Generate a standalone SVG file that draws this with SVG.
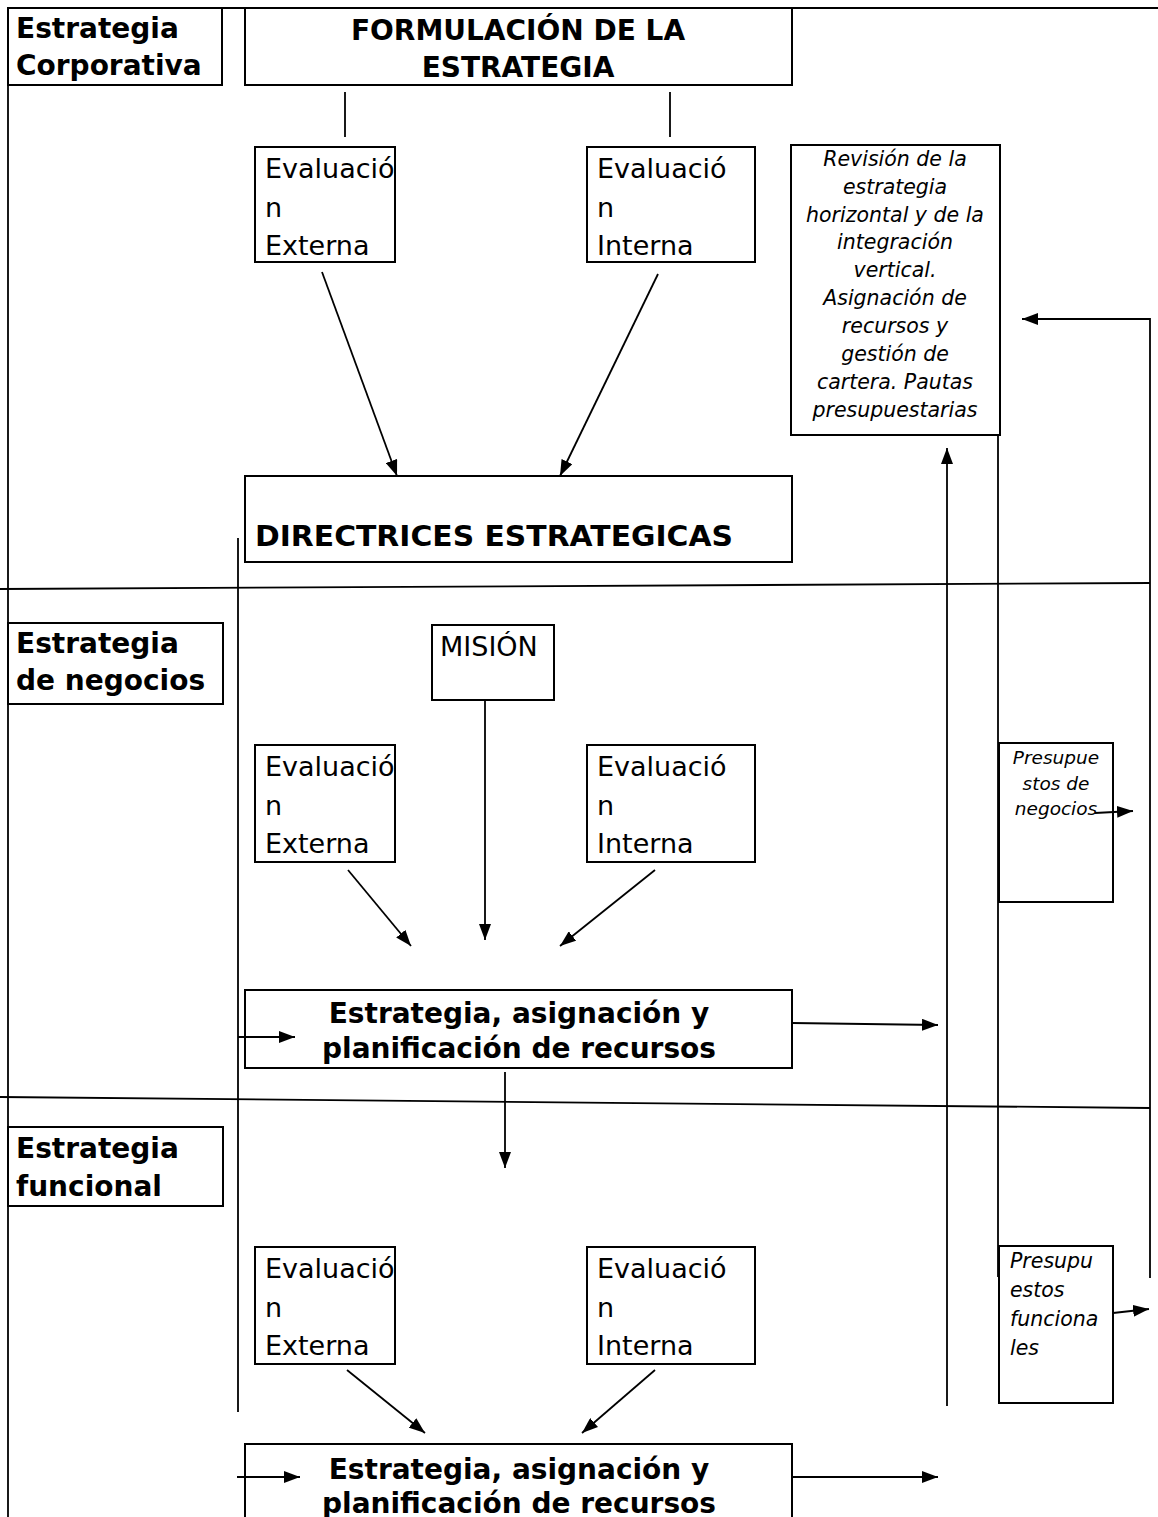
<svg xmlns="http://www.w3.org/2000/svg" width="1158" height="1517" viewBox="0 0 1158 1517">
  <style>
    .box { fill: #fff; stroke: #000; stroke-width: 2; }
    .ln { fill: none; stroke: #000; stroke-width: 1.8; }
    .arr { fill: none; stroke: #000; stroke-width: 1.8; marker-end: url(#ah); }
    .lbl { font-family: "DejaVu Sans", "Liberation Sans", sans-serif; font-weight: bold; font-size: 28px; fill: #000; }
    .reg { font-family: "DejaVu Sans", "Liberation Sans", sans-serif; font-size: 27px; fill: #000; }
    .it { font-family: "DejaVu Sans", "Liberation Sans", sans-serif; font-style: italic; fill: #000; }
  </style>
  <defs>
    <marker id="ah" viewBox="0 0 16 12" refX="16" refY="6" markerWidth="16" markerHeight="12" markerUnits="userSpaceOnUse" orient="auto">
      <path d="M0,0 L16,6 L0,12 Z" fill="#000"/>
    </marker>
  </defs>
  <rect width="1158" height="1517" fill="#fff"/>

  <!-- frame and level dividers -->
  <g id="frame">
    <line class="ln" x1="8" y1="8" x2="1158" y2="8"/>
    <line class="ln" x1="8" y1="8" x2="8" y2="1517"/>
    <line class="ln" x1="0" y1="589" x2="1150" y2="583"/>
    <line class="ln" x1="0" y1="1097" x2="1150" y2="1108"/>
  </g>

  <!-- level labels -->
  <g id="label-corporativa">
    <rect class="box" x="8" y="8" width="214" height="77"/>
    <text class="lbl" x="16" y="38">Estrategia</text>
    <text class="lbl" x="16" y="75">Corporativa</text>
  </g>
  <g id="label-negocios">
    <rect class="box" x="8" y="623" width="215" height="81"/>
    <text class="lbl" x="16" y="653">Estrategia</text>
    <text class="lbl" x="16" y="690">de negocios</text>
  </g>
  <g id="label-funcional">
    <rect class="box" x="8" y="1127" width="215" height="79"/>
    <text class="lbl" x="16" y="1158">Estrategia</text>
    <text class="lbl" x="16" y="1196">funcional</text>
  </g>

  <!-- corporate level -->
  <g id="formulacion">
    <rect class="box" x="245" y="8" width="547" height="77"/>
    <text class="lbl" x="518" y="40" text-anchor="middle">FORMULACIÓN DE LA</text>
    <text class="lbl" x="518" y="77" text-anchor="middle">ESTRATEGIA</text>
  </g>
  <g id="eval-ext-1">
    <rect class="box" x="255" y="147" width="140" height="115"/>
    <text class="reg" x="265" y="178">Evaluació</text>
    <text class="reg" x="265" y="217">n</text>
    <text class="reg" x="265" y="255">Externa</text>
  </g>
  <g id="eval-int-1">
    <rect class="box" x="587" y="147" width="168" height="115"/>
    <text class="reg" x="597" y="178">Evaluació</text>
    <text class="reg" x="597" y="217">n</text>
    <text class="reg" x="597" y="255">Interna</text>
  </g>
  <g id="directrices">
    <rect class="box" x="245" y="476" width="547" height="86"/>
    <text class="lbl" x="255" y="546" font-size="29" textLength="478" lengthAdjust="spacingAndGlyphs">DIRECTRICES ESTRATEGICAS</text>
  </g>
  <g id="revision">
    <rect class="box" x="791" y="145" width="209" height="290"/>
    <g class="it" font-size="20.5" text-anchor="middle">
      <text x="895" y="166">Revisión de la</text>
      <text x="895" y="194">estrategia</text>
      <text x="895" y="222">horizontal y de la</text>
      <text x="895" y="249">integración</text>
      <text x="895" y="277">vertical.</text>
      <text x="895" y="305">Asignación de</text>
      <text x="895" y="333">recursos y</text>
      <text x="895" y="361">gestión de</text>
      <text x="895" y="389">cartera. Pautas</text>
      <text x="895" y="417">presupuestarias</text>
    </g>
  </g>

  <!-- business level -->
  <g id="mision">
    <rect class="box" x="432" y="625" width="122" height="75"/>
    <text class="reg" x="440" y="656">MISIÓN</text>
  </g>
  <g id="eval-ext-2">
    <rect class="box" x="255" y="745" width="140" height="117"/>
    <text class="reg" x="265" y="776">Evaluació</text>
    <text class="reg" x="265" y="815">n</text>
    <text class="reg" x="265" y="853">Externa</text>
  </g>
  <g id="eval-int-2">
    <rect class="box" x="587" y="745" width="168" height="117"/>
    <text class="reg" x="597" y="776">Evaluació</text>
    <text class="reg" x="597" y="815">n</text>
    <text class="reg" x="597" y="853">Interna</text>
  </g>
  <g id="estrategia-negocios">
    <rect class="box" x="245" y="990" width="547" height="78"/>
    <text class="lbl" x="519" y="1023" text-anchor="middle">Estrategia, asignación y</text>
    <text class="lbl" x="519" y="1058" text-anchor="middle">planificación de recursos</text>
  </g>
  <g id="presupuestos-negocios">
    <rect class="box" x="999" y="743" width="114" height="159"/>
    <g class="it" font-size="18.5" text-anchor="middle">
      <text x="1056" y="764">Presupue</text>
      <text x="1056" y="790">stos de</text>
      <text x="1056" y="815">negocios</text>
    </g>
  </g>

  <!-- functional level -->
  <g id="eval-ext-3">
    <rect class="box" x="255" y="1247" width="140" height="117"/>
    <text class="reg" x="265" y="1278">Evaluació</text>
    <text class="reg" x="265" y="1317">n</text>
    <text class="reg" x="265" y="1355">Externa</text>
  </g>
  <g id="eval-int-3">
    <rect class="box" x="587" y="1247" width="168" height="117"/>
    <text class="reg" x="597" y="1278">Evaluació</text>
    <text class="reg" x="597" y="1317">n</text>
    <text class="reg" x="597" y="1355">Interna</text>
  </g>
  <g id="presupuestos-funcionales">
    <rect class="box" x="999" y="1246" width="114" height="157"/>
    <g class="it" font-size="20.5">
      <text x="1010" y="1268">Presupu</text>
      <text x="1010" y="1297">estos</text>
      <text x="1010" y="1326">funciona</text>
      <text x="1010" y="1355">les</text>
    </g>
  </g>
  <g id="estrategia-funcional">
    <rect class="box" x="245" y="1444" width="547" height="90"/>
    <text class="lbl" x="519" y="1479" text-anchor="middle">Estrategia, asignación y</text>
    <text class="lbl" x="519" y="1513" text-anchor="middle">planificación de recursos</text>
  </g>

  <!-- connectors -->
  <g id="connectors">
    <line class="ln" x1="345" y1="92" x2="345" y2="137"/>
    <line class="ln" x1="670" y1="92" x2="670" y2="137"/>
    <line class="arr" x1="322" y1="272" x2="397" y2="476"/>
    <line class="arr" x1="658" y1="274" x2="560" y2="476"/>

    <line class="ln" x1="238" y1="538" x2="238" y2="1412"/>
    <line class="arr" x1="947" y1="1406" x2="947" y2="448"/>
    <line class="ln" x1="998" y1="435" x2="998" y2="1277"/>
    <polyline class="arr" points="1150,1278 1150,319 1022,319"/>

    <line class="arr" x1="485" y1="700" x2="485" y2="940"/>
    <line class="arr" x1="348" y1="870" x2="411" y2="946"/>
    <line class="arr" x1="655" y1="870" x2="560" y2="946"/>
    <line class="arr" x1="238" y1="1037" x2="295" y2="1037"/>
    <line class="arr" x1="792" y1="1023" x2="938" y2="1025"/>
    <line class="arr" x1="1095" y1="813" x2="1133" y2="811"/>

    <line class="arr" x1="505" y1="1072" x2="505" y2="1168"/>
    <line class="arr" x1="347" y1="1370" x2="425" y2="1433"/>
    <line class="arr" x1="655" y1="1370" x2="582" y2="1433"/>
    <line class="arr" x1="237" y1="1477" x2="300" y2="1477"/>
    <line class="arr" x1="792" y1="1477" x2="938" y2="1477"/>
    <line class="arr" x1="1113" y1="1313" x2="1149" y2="1309"/>
  </g>
</svg>
